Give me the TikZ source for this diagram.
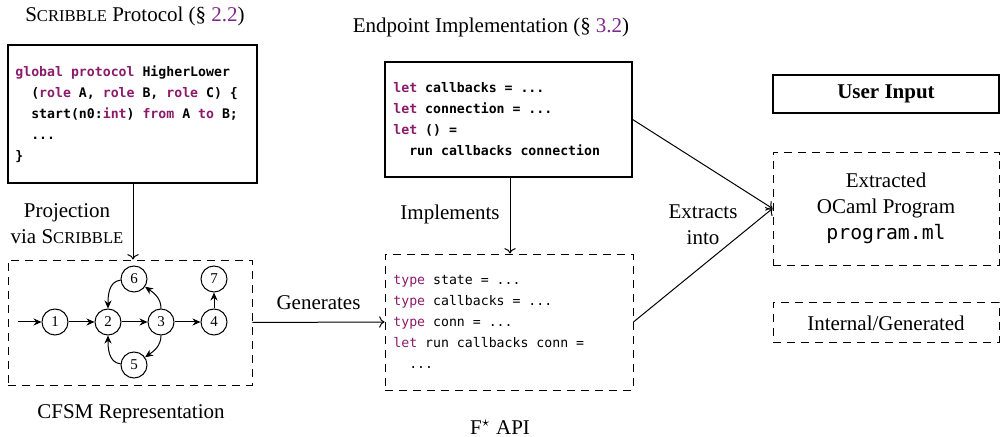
\documentclass[tikz,border=0pt]{standalone}
\usepackage{fontspec}
\setmainfont{Liberation Serif}
\newfontfamily\codefont{DejaVu Sans Mono}
\usetikzlibrary{arrows.meta}
\definecolor{kw}{RGB}{139,26,107}
\definecolor{lnk}{RGB}{125,40,140}
\newcommand\kw[1]{\textcolor{kw}{#1}}
\newcommand\ind{\phantom{xx}}
\newcommand\fsc[1]{{\fontsize{8.3}{10}\selectfont #1}}
\begin{document}
\begin{tikzpicture}[x=0.5pt,y=-0.5pt,
  solidbox/.style={draw, line width=0.6pt, inner sep=0pt},
  dashbox/.style={draw, line width=0.45pt, dash pattern=on 4pt off 3pt, inner sep=0pt},
  code/.style={font=\codefont\fontsize{6.6}{10.5}\selectfont, align=left, inner sep=0pt, anchor=west},
  lbl/.style={font=\fontsize{10.5}{13}\selectfont, align=center, inner sep=0pt},
  arr/.style={->, line width=0.5pt},
  st/.style={circle, draw, minimum size=13pt, inner sep=0pt, line width=0.5pt, font=\fontsize{7.5}{9}\selectfont},
  fsm/.style={-{Stealth[length=4pt,width=3.5pt]}, line width=0.5pt}]
\useasboundingbox (0,0) rectangle (1000,437);

% titles
\node[lbl] (t1) at (135,16) {S\fsc{CRIBBLE} Protocol (\S~\textcolor{lnk}{2.2})};
\node[lbl] (t2) at (491,27) {Endpoint Implementation (\S~\textcolor{lnk}{3.2})};

% Scribble box
\node[solidbox, minimum width=124.5pt, minimum height=69pt] (scr) at (132.5,114) {};
\node[code, font=\codefont\bfseries\fontsize{6.6}{10.5}\selectfont] (scrcode) at (15,114) {%
\kw{global} \kw{protocol} HigherLower\\
\ind(\kw{role} A, \kw{role} B, \kw{role} C) \{\\
\ind start(n0:\kw{int}) \kw{from} A \kw{to} B;\\
\ind ...\\
\}};

% CFSM box
\node[dashbox, minimum width=122pt, minimum height=62.5pt] (cfsm) at (130,322.5) {};
\node[lbl] (cfsmlbl) at (131,414) {CFSM Representation};
\node[lbl] (projlbl) at (67,224) {Projection\\via S\fsc{CRIBBLE}};

% states
\coordinate (init) at (18,322);
\node[st] (s1) at (55,322) {1};
\node[st] (s2) at (108,322) {2};
\node[st] (s3) at (161,322) {3};
\node[st] (s4) at (214,322) {4};
\node[st] (s6) at (134,279) {6};
\node[st] (s5) at (134,365) {5};
\node[st] (s7) at (214,279) {7};
\draw[fsm] (init) -- (s1);
\draw[fsm] (s1) -- (s2);
\draw[fsm] (s2) -- (s3);
\draw[fsm] (s3) -- (s4);
\draw[fsm] (s4) -- (s7);
\draw[fsm] (s3) to[out=90,in=-35] (s6);
\draw[fsm] (s6) to[out=185,in=90] (s2);
\draw[fsm] (s3) to[out=-90,in=35] (s5);
\draw[fsm] (s5) to[out=175,in=-90] (s2);

% Endpoint box
\node[solidbox, minimum width=123.5pt, minimum height=57.5pt] (ep) at (508.5,119.5) {};
\node[code, font=\codefont\bfseries\fontsize{6.6}{10.5}\selectfont] (epcode) at (393,119) {%
\kw{let} callbacks = ...\\
\kw{let} connection = ...\\
\kw{let} () =\\
\ind run callbacks connection};

% F* box
\node[dashbox, minimum width=124pt, minimum height=68pt] (fs) at (509,322) {};
\node[code] (fscode) at (393,322) {%
\kw{type} state = ...\\
\kw{type} callbacks = ...\\
\kw{type} conn = ...\\
\kw{let} run callbacks conn =\\
\ind ...};
\node[lbl] (fslbl) at (500,427) {F$^\star$ API};

% right column
\node[solidbox, minimum width=113pt, minimum height=19pt] (ui) at (886,94) {};
\node[lbl, font=\bfseries\fontsize{10.5}{13}\selectfont] (uilbl) at (886,94) {User Input};
\node[dashbox, minimum width=113pt, minimum height=56.5pt] (ex) at (886,208.5) {};
\node[lbl] (exlbl) at (886,208) {Extracted\\OCaml Program\\{\codefont\fontsize{9.9}{13}\selectfont program.ml}};
\node[dashbox, minimum width=113pt, minimum height=20pt] (ig) at (886,322) {};
\node[lbl] (iglbl) at (886,323) {Internal/Generated};

% connectors
\draw[arr] (scr.south -| 133,0) -- (133,0 |- cfsm.north);
\draw[arr] (cfsm.east) -- (fs.west) node[lbl, midway, above=6pt] (genlbl) {Generates};
\draw[arr] (ep.south -| 510,0) -- (510,0 |- fs.north);
\node[lbl] (implbl) at (450,214) {Implements};
\draw[arr] (ep.east) -- (ex.west);
\draw[arr] (fs.east) -- (ex.west);
\node[lbl] (extlbl) at (703,225) {Extracts\\into};
\end{tikzpicture}
\end{document}
